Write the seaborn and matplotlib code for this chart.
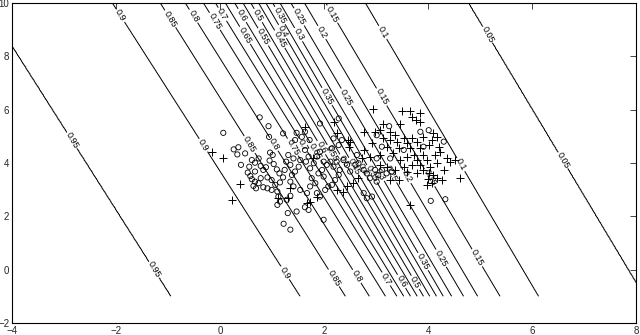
import numpy as np
import pandas as pd
import matplotlib
matplotlib.use("Agg")
import matplotlib.pyplot as plt
import seaborn as sns

# contour levels and where each line sits (x at y=10 and x at y=-1)
levels = [0.95, 0.9, 0.85, 0.8, 0.75, 0.7, 0.65, 0.6, 0.55, 0.5,
          0.45, 0.4, 0.35, 0.3, 0.25, 0.2, 0.15, 0.1, 0.05]
x_top = [-4.52, -2.07, -1.15, -0.67, -0.32, -0.09, 0.10, 0.28, 0.44, 0.59,
         0.74, 0.88, 1.01, 1.15, 1.36, 1.62, 2.03, 2.79, 4.77]
x_bot = [-0.94, 1.54, 2.41, 2.87, 3.18, 3.40, 3.53, 3.66, 3.79, 3.91,
         4.03, 4.16, 4.29, 4.45, 4.68, 4.95, 5.38, 6.12, 8.15]

# class 1 (circles)
circ_x = [0.26, 0.35, 0.33, 0.40, 0.53, 0.58, 0.61, 0.64, 0.69, 0.74, 0.61, 0.67, 0.74, 0.78,
          0.83, 0.88, 0.96, 1.01, 0.95, 1.03, 1.09, 0.91, 0.99, 1.06, 0.83, 0.91, 0.99, 1.10,
          1.15, 1.21, 1.14, 1.24, 1.12, 1.10, 1.15, 1.28, 1.35, 1.30, 1.22, 1.35, 1.47, 1.63,
          1.70, 1.67, 1.54, 1.41, 1.35, 1.38, 1.44, 1.51, 1.54, 1.41, 1.31, 1.27, 1.35, 0.76,
          0.93, 1.21, 1.47, 0.06, 0.94, 0.48, 0.56, 0.67, 0.78, 0.67,
          1.44, 1.57, 1.63, 1.72, 1.63, 1.70, 1.65, 1.73, 1.80, 1.86, 1.92, 1.99, 2.05, 2.12,
          2.18, 2.24, 2.30, 2.28, 2.21, 2.15, 2.08, 2.02, 1.92, 1.86, 1.83, 1.76, 1.73, 1.89,
          1.96, 1.99, 2.37, 2.44, 2.50, 2.60, 2.66, 2.76, 2.88, 2.82, 2.98, 3.04, 3.11, 3.20,
          3.30, 2.92, 2.82, 2.76, 3.01, 2.15, 2.28, 2.34, 2.18, 2.28, 1.92, 1.99, 3.01, 3.11,
          3.01, 3.25, 3.85, 4.01, 3.91, 4.30, 4.05, 4.33, 3.53, 3.27, 2.63]
circ_y = [4.51, 4.59, 4.32, 3.93, 3.64, 3.51, 3.39, 3.14, 3.05, 3.24, 4.11, 4.01, 4.17, 3.89,
          3.74, 3.84, 4.39, 4.30, 4.09, 3.96, 3.76, 3.46, 3.36, 3.18, 3.09, 3.05, 2.99, 2.93,
          3.27, 3.46, 3.61, 3.74, 2.74, 2.43, 2.55, 2.62, 2.77, 2.12, 1.72, 1.50, 2.18, 2.34,
          2.24, 2.87, 2.99, 3.12, 3.30, 3.55, 3.68, 3.86, 4.11, 4.17, 4.30, 4.05, 3.93, 5.71,
          5.38, 5.11, 5.13, 5.13, 4.98, 4.36, 3.86, 3.68, 3.43, 3.30,
          4.86, 4.98, 5.17, 4.86, 4.49, 4.24, 4.05, 3.80, 3.99, 4.24, 4.42, 4.05, 3.93, 4.05,
          3.86, 4.05, 3.74, 3.55, 3.36, 3.18, 3.12, 2.99, 2.74, 2.87, 3.24, 3.43, 3.12, 3.61,
          3.74, 3.49, 4.11, 3.93, 3.68, 3.93, 3.99, 3.74, 3.43, 3.61, 3.74, 3.55, 3.74, 3.61,
          3.68, 2.74, 2.68, 2.87, 3.30, 4.55, 4.67, 4.86, 4.92, 5.67, 5.48, 1.87, 4.17, 4.61,
          5.04, 5.38, 5.17, 5.23, 4.61, 4.80, 2.58, 2.64, 4.49, 4.17, 4.30]

# class 2 (plus)
plus_x = [0.06, 0.22, 0.38, -0.16, 1.63, 2.19, 2.50, 2.47, 2.76, 2.72, 2.94, 3.14, 3.08, 3.49,
          3.65, 3.69, 3.85, 3.85, 3.77, 3.46, 3.53, 3.40, 3.27, 3.14, 2.92, 3.20, 3.33, 3.43,
          3.59, 3.65, 3.72, 3.78, 3.91, 3.97, 4.04, 4.07, 4.10, 4.17, 4.20, 4.23, 4.13, 4.01,
          4.10, 4.17, 4.26, 4.30, 4.36, 4.42, 4.52, 4.62, 3.91, 3.85, 3.69, 3.53, 3.59, 3.46,
          3.37, 3.20, 3.08, 2.88, 3.27, 3.43, 2.66, 2.56, 2.44, 2.37, 2.24, 1.86, 1.73, 1.30,
          1.12, 3.65, 3.08, 3.59, 3.78, 3.99, 3.97, 4.07, 2.45, 2.24, 2.76, 2.98, 3.27, 3.37,
          3.69, 3.78, 3.91, 4.01, 3.85, 4.17, 1.35, 1.67, 1.79]
plus_y = [4.17, 2.62, 3.21, 4.42, 5.36, 5.55, 4.80, 4.61, 4.49, 4.17, 6.04, 5.48, 5.23, 5.96,
          5.96, 5.73, 5.86, 5.55, 5.61, 5.48, 4.92, 4.80, 4.86, 4.92, 4.74, 4.61, 4.36, 4.55,
          4.74, 4.55, 4.30, 4.11, 4.30, 4.11, 3.86, 4.86, 5.11, 4.98, 4.61, 4.42, 4.30, 3.61,
          3.55, 3.43, 3.36, 3.74, 4.17, 4.05, 4.11, 3.43, 3.74, 3.93, 3.93, 3.86, 4.24, 4.11,
          3.74, 3.86, 3.93, 4.24, 3.36, 3.36, 3.43, 3.24, 3.12, 2.93, 2.99, 2.74, 2.55, 2.68,
          2.68, 2.43, 4.30, 3.68, 3.61, 3.39, 3.18, 3.24, 4.86, 5.11, 5.17, 5.17, 5.17, 5.04,
          4.92, 4.80, 4.98, 4.67, 4.55, 3.99, 3.05, 2.49, 4.18]

# where the inline labels sit on each line
label_pos = {
    0.95: [(-2.88, 4.79), (-1.29, -0.04)],
    0.9: [(-1.92, 9.53), (-0.32, 4.67), (1.25, -0.12)],
    0.85: [(-1.0, 9.35), (0.55, 4.67), (2.19, -0.31)],
    0.8: [(-0.52, 9.5), (1.0, 4.67), (2.63, -0.25)],
    0.75: [(-0.15, 9.27), (1.31, 4.49)],
    0.7: [(0.06, 9.6), (1.62, 4.7), (3.17, -0.37)],
    0.65: [(0.48, 8.79), (1.8, 4.4)],
    0.6: [(0.42, 9.53), (1.92, 4.55), (3.49, -0.44)],
    0.55: [(0.81, 8.71), (2.1, 4.3)],
    0.5: [(0.73, 9.53), (2.3, 4.0), (3.76, -0.47)],
    0.45: [(1.1, 8.6), (2.5, 3.8)],
    0.4: [(1.22, 8.95), (2.7, 3.7)],
    0.35: [(1.15, 9.53), (2.04, 6.48), (2.92, 3.6), (3.91, 0.31)],
    0.3: [(1.48, 8.79), (3.1, 3.6)],
    0.25: [(1.5, 9.46), (2.41, 6.45), (3.3, 3.6), (4.26, 0.44)],
    0.2: [(1.96, 8.9), (3.6, 3.5)],
    0.15: [(2.17, 9.6), (3.08, 6.45), (4.03, 3.45), (4.94, 0.44)],
    0.1: [(3.13, 8.9), (4.62, 3.93)],
    0.05: [(5.13, 8.79), (6.63, 4.11)],
}

# probability surface built from the line positions
gx = np.linspace(-4, 8, 600)
gy = np.linspace(-1, 10, 400)
Z = np.zeros((len(gy), len(gx)))
xt = np.array(x_top)
xb = np.array(x_bot)
for i, yv in enumerate(gy):
    xk = xt + (xb - xt) * (10 - yv) / 11
    Z[i] = np.interp(gx, np.r_[-60, xk, 60], np.r_[1.0, levels, 0.0])
GX, GY = np.meshgrid(gx, gy)

df1 = pd.DataFrame({"x": circ_x, "y": circ_y})
df2 = pd.DataFrame({"x": plus_x, "y": plus_y})

sns.set_style("white")
plt.rcParams['font.family'] = ['Liberation Sans', 'DejaVu Sans']

fig = plt.figure(figsize=(6.4, 3.35), dpi=100)
ax = fig.add_axes([0.019, 0.036, 0.975, 0.955])

# one contour set per level so each gets its own labels
for lev in levels:
    cs = ax.contour(GX, GY, Z, levels=[lev], colors='black', linewidths=0.7)
    ax.clabel(cs, manual=label_pos[lev], fmt='%g', fontsize=6.5,
              inline=True, inline_spacing=2)

sns.scatterplot(data=df1, x="x", y="y", marker='o', s=14, facecolor='none',
                edgecolor='black', linewidth=0.6, ax=ax)
sns.scatterplot(data=df2, x="x", y="y", marker='+', s=32, color='black',
                linewidth=0.7, ax=ax)

ax.set_xlim(-4, 8)
ax.set_ylim(-2, 10)
ax.set_xticks([-4, -2, 0, 2, 4, 6, 8])
ax.set_yticks([-2, 0, 2, 4, 6, 8, 10])
ax.set_xlabel('')
ax.set_ylabel('')
ax.tick_params(direction='in', top=True, right=True, length=4, width=0.6,
               labelsize=7, pad=2)
for sp in ax.spines.values():
    sp.set_linewidth(0.8)
    sp.set_color('black')

fig.savefig('out.png', dpi=100)
